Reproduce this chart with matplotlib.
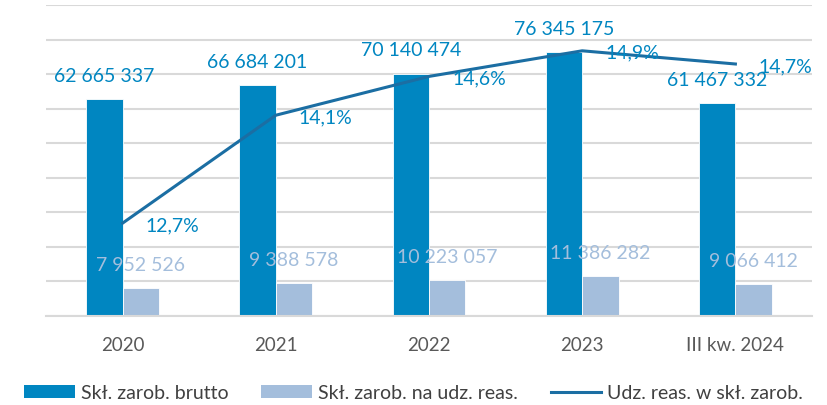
import matplotlib
matplotlib.use("Agg")
import matplotlib.pyplot as plt
from matplotlib.patches import Patch
from matplotlib.lines import Line2D
import numpy as np

plt.rcParams['font.family'] = ['Lato', 'DejaVu Sans']

# data
categories = ['2020', '2021', '2022', '2023', 'III kw. 2024']
brutto = [62665337, 66684201, 70140474, 76345175, 61467332]
udz_reas = [7952526, 9388578, 10223057, 11386282, 9066412]
udzial = [12.69, 14.08, 14.58, 14.91, 14.74]

dark = '#0086C1'
light = '#A4BEDC'
line_col = '#1B6EA3'
grid_col = '#D9D9D9'

def fmt_num(v):
    return f'{v:,}'.replace(',', ' ')

fig = plt.figure(figsize=(8.27, 4.06), dpi=100)
ax = fig.add_axes([46/827, (406-316.5)/406, (812-46)/827, 310.5/406])

x = np.arange(len(categories))
w = 0.238
b1 = ax.bar(x - w/2, brutto, w, color=dark, edgecolor='white', linewidth=0.6, zorder=2)
b2 = ax.bar(x + w/2, udz_reas, w, color=light, edgecolor='white', linewidth=0.6, zorder=2)

ax.set_xlim(-0.5, len(categories) - 0.5)
ax.set_ylim(0, 90000000)
ax.set_yticks(np.arange(0, 90000001, 10000000))
ax.yaxis.grid(True, color=grid_col, linewidth=1.5)
ax.set_axisbelow(True)
ax.tick_params(axis='y', length=0, labelleft=False)
ax.tick_params(axis='x', length=0, pad=15, labelsize=13.5, labelcolor='#595959')
ax.set_xticks(x)
ax.set_xticklabels(categories)
for s in ['top', 'right', 'left']:
    ax.spines[s].set_visible(False)
ax.spines['bottom'].set_color(grid_col)
ax.spines['bottom'].set_linewidth(1.5)

for xi, v in zip(x, brutto):
    ax.annotate(fmt_num(v), (xi - w/2, v), xytext=(0, 17), textcoords='offset points',
                ha='center', va='center', fontsize=14, color=dark, zorder=5)
for xi, v in zip(x, udz_reas):
    ax.annotate(fmt_num(v), (xi + w/2, v), xytext=(0, 17), textcoords='offset points',
                ha='center', va='center', fontsize=14, color=light, zorder=5)

ax2 = ax.twinx()
ax2.set_ylim(11.5, 15.5)
ax2.plot(x, udzial, color=line_col, linewidth=2.2, zorder=3)
ax2.axis('off')
for xi, v in zip(x, udzial):
    ax2.annotate(f'{v:.1f}%'.replace('.', ','), (xi, v), xytext=(36, -1), textcoords='offset points',
                 ha='center', va='center', fontsize=14, color=dark, zorder=5)

handles = [Patch(facecolor=dark), Patch(facecolor=light), Line2D([0], [0], color=line_col, linewidth=2.2)]
labels = ['Skł. zarob. brutto', 'Skł. zarob. na udz. reas.', 'Udz. reas. w skł. zarob.']
leg = fig.legend(handles, labels, loc='center', bbox_to_anchor=(0.5, 12/406), ncol=3,
                 frameon=False, fontsize=14, handlelength=2.6, handleheight=0.6,
                 handletextpad=0.3, columnspacing=1.7, labelcolor='#404040')

fig.savefig('out.png', dpi=100)
